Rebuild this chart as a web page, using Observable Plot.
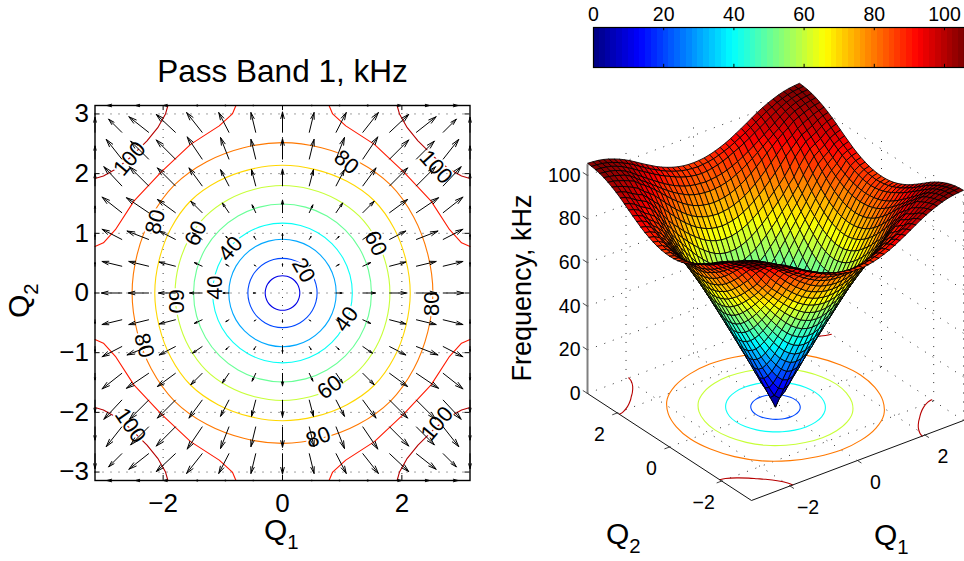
<!DOCTYPE html>
<html><head><meta charset="utf-8">
<script src="https://cdn.jsdelivr.net/npm/d3@7"></script>
<script src="https://cdn.jsdelivr.net/npm/@observablehq/plot@0.6"></script>
<style>
html,body{margin:0;padding:0;background:#fff;overflow:hidden}
body{width:964px;height:561px;position:relative;font-family:"Liberation Sans",Arial,sans-serif;color:#000}
#left,#bar,#surf{position:absolute}
#left{left:0;top:0}#bar{left:560px;top:0}#surf{left:500px;top:72px}
.lab{position:absolute;white-space:nowrap;line-height:1}
.lab sub{font-size:.68em;vertical-align:-.42em;line-height:0}
</style></head><body>
<div id="left"></div><div id="surf"></div><div id="bar"></div>
<div class="lab" style="left:264px;top:515px;font-size:30px">Q<sub>1</sub></div>
<div class="lab" style="left:4px;top:282px;font-size:30px;transform:rotate(-90deg);transform-origin:18px 18px">Q<sub>2</sub></div>
<div class="lab" style="left:874px;top:520px;font-size:30px">Q<sub>1</sub></div>
<div class="lab" style="left:606px;top:519px;font-size:30px">Q<sub>2</sub></div>
<div class="lab" style="left:522px;top:288px;font-size:27px;transform:translate(-50%,-50%) rotate(-90deg)">Frequency, kHz</div>
<script>
const PI = Math.PI;
const titleText = "Pass Band 1, kHz";
const colorMax = 105.7;
const barTicks = [0,20,40,60,80,100];
const qTicks = [-2,0,2];
const yTicks = [-3,-2,-1,0,1,2,3];
const zTicks = [0,20,40,60,80,100];

// frequency, kHz, on one octant of the zone: row i, column j<=i, Q = k*pi/20
const freqOctant = [
[0],
[5.3,7.5],
[10.7,12.0,15.3],
[16.2,17.1,19.5,22.9],
[21.6,22.2,24.1,27.0,30.3],
[27.0,27.5,29.0,31.2,34.3,37.8],
[32.2,32.6,33.9,35.9,38.5,41.6,45.1],
[37.4,37.8,38.9,40.6,42.9,45.7,48.8,52.3],
[42.6,42.9,43.9,45.4,47.4,49.9,52.8,56.0,59.3],
[47.7,48.0,48.8,50.2,52.0,54.3,56.9,59.7,62.8,65.9],
[52.8,53.0,53.8,55.0,56.6,58.7,61.0,63.5,66.2,69.1,72.0],
[57.8,58.0,58.7,59.7,61.2,63.0,65.0,67.3,69.7,72.3,75.0,78.2],
[62.6,62.8,63.4,64.3,65.5,67.1,69.0,71.0,73.3,75.8,78.2,81.0,84.4],
[67.1,67.3,67.8,68.6,69.8,71.2,73.0,75.0,77.2,79.7,82.2,85.0,88.0,90.4],
[71.4,71.6,72.0,72.8,73.8,75.1,76.8,78.7,80.9,83.2,85.8,88.3,90.8,92.8,94.6],
[75.4,75.6,76.0,76.7,77.7,79.0,80.6,82.4,84.4,86.6,88.9,91.1,93.2,95.1,96.8,98.9],
[79.4,79.6,79.9,80.5,81.3,82.5,83.8,85.3,87.0,88.8,90.7,92.6,94.5,96.2,98.2,100.0,101.4],
[82.4,82.6,82.9,83.4,84.1,85.1,86.2,87.5,89.0,90.6,92.3,94.0,95.8,97.5,99.4,101.0,102.2,103.2],
[85.0,85.2,85.6,86.2,87.0,88.0,89.2,90.3,91.6,93.0,94.5,96.0,97.5,99.1,100.5,101.9,103.0,103.9,104.5],
[86.8,87.0,87.3,87.8,88.5,89.4,90.4,91.6,92.9,94.2,95.7,97.2,98.8,100.2,101.4,102.6,103.5,104.3,104.9,105.2],
[87.5,87.6,87.9,88.4,89.1,90.0,91.0,92.2,93.6,95.0,96.5,98.0,99.5,100.8,102.0,103.0,103.9,104.6,105.1,105.4,105.6]
];

// contour radii, at 0, 15, 30 and 45 degrees
const contourAngles = [0,15,30,45];
const closedContours = [
 {level:10, r:[.29,.29,.29,.29]},
 {level:20, r:[.58,.58,.58,.58]},
 {level:30, r:[.90,.90,.90,.90]},
 {level:40, r:[1.17,1.17,1.17,1.17]},
 {level:50, r:[1.49,1.49,1.49,1.49]},
 {level:60, r:[1.80,1.80,1.81,1.82]},
 {level:70, r:[2.14,2.14,2.16,2.18]},
 {level:80, r:[2.52,2.52,2.54,2.56]}
];
// open contours near the zone edge, one octant
const contour90 = [[3.1416,.78],[3.0,.84],[2.80,1.06],[2.49,1.54],[2.03,2.03]];
const contour100 = [[3.1416,1.92],[3.0,1.96],[2.77,2.09],[2.55,2.27],[2.41,2.41]];

// contour labels: text, Q1, Q2, rotation
const contourLabels = [
 ["100",-2.56,2.25,-50],["80",-2.13,1.19,-75],["60",-1.45,1.0,-65],["40",-.87,.74,-50],
 ["40",-1.14,.09,-90],["60",-1.78,-.14,90],["80",-2.32,-.88,75],["100",-2.55,-2.22,55],
 ["80",.60,-2.42,-20],["60",.79,-1.58,-36],["40",1.07,-.44,-55],["20",.35,.38,60],
 ["60",1.56,.83,65],["80",1.07,2.19,40],["100",2.57,2.11,48],["80",2.50,-.18,-90],["100",2.59,-2.19,-50]
];

// arrow component along the index direction; rows |m|, columns |k|, grid Q = k*2pi/14
const arrowComp = [
 [0,.04,.10,.21,.28,.34,.34,0],
 [0,.02,.05,.13,.27,.33,.33,0],
 [0,.03,.05,.16,.27,.36,.33,0],
 [0,.06,.11,.19,.30,.37,.33,0],
 [0,.07,.14,.22,.30,.32,.30,0],
 [0,.08,.14,.25,.32,.30,.26,0],
 [0,.08,.17,.26,.32,.33,.22,0],
 [0,.06,.08,.11,.20,.22,.25,0]
];

// view of the 3-D axes: screen units per Q1, per Q2 and per kHz
const view = {q1x:33.74, q2x:-26.1, q1y:12.73, q2y:17.03, zy:2.18};
const project = (q1,q2,z) => ({x:view.q1x*q1+view.q2x*q2, y:view.q1y*q1+view.q2y*q2+view.zy*z});

const clip01 = v => Math.max(0,Math.min(1,v));
const jet = d3.range(64).map(i=>{
  const t=(i+.5)/64;
  return d3.rgb(255*clip01(Math.min(4*t-1.5,-4*t+4.5)),255*clip01(Math.min(4*t-.5,-4*t+3.5)),255*clip01(Math.min(4*t+.5,-4*t+2.5))).formatHex();
});
const colorScale = {type:"quantize",domain:[0,colorMax],range:jet};
const fmt=t=>String(t).replace("-","\u2212");

/* ---------- contour geometry ---------- */
const closedRows=[];
closedContours.forEach(c=>{
  const n=contourAngles.length;
  const oct=contourAngles.map((a,i)=>[a,c.r[i]]);
  const quad=[...oct,...oct.slice(0,n-1).reverse().map(([a,r])=>[90-a,r])];
  d3.range(4).forEach(q=>quad.slice(0,quad.length-1).forEach(([a,r])=>{
    const t=(a+90*q)*PI/180;
    closedRows.push({id:"c"+c.level,level:c.level,q1:r*Math.cos(t),q2:r*Math.sin(t)});
  }));
});
const openRows=[];
[[90,contour90],[100,contour100]].forEach(([level,pts])=>{
  const arc=[...pts,...pts.slice(0,-1).reverse().map(([a,b])=>[b,a])];
  [[1,1],[-1,1],[-1,-1],[1,-1]].forEach(([s1,s2],q)=>arc.forEach(([a,b])=>
    openRows.push({id:"o"+level+"_"+q,level,q1:s1*a,q2:s2*b})));
});

/* ---------- arrows ---------- */
const arrows=[];
d3.range(-7,8).forEach(k=>d3.range(-7,8).forEach(m=>{
  const u=Math.sign(k)*arrowComp[Math.abs(m)][Math.abs(k)], v=Math.sign(m)*arrowComp[Math.abs(k)][Math.abs(m)];
  if(u||v){const q1=k*2*PI/14,q2=m*2*PI/14;arrows.push({q1,q2,e1:q1+u,e2:q2+v});}
}));

/* ---------- left panel ---------- */
const innerTick=.085;
const leftTicks=[...qTicks.flatMap(x=>[{x,a:-PI,b:-PI+innerTick},{x,a:PI,b:PI-innerTick}])];
const leftYTicks=yTicks.flatMap(y=>[{y,a:-PI,b:-PI+innerTick},{y,a:PI,b:PI-innerTick}]);
const left=Plot.plot({
  width:500,height:561,marginLeft:94.5,marginRight:30.5,marginTop:105,marginBottom:81,
  style:{fontFamily:"Liberation Sans, Arial, sans-serif",background:"transparent",color:"#000"},
  x:{domain:[-PI,PI],label:null},y:{domain:[-PI,PI],label:null},color:colorScale,
  marks:[
    Plot.gridX({ticks:qTicks,stroke:"#000",strokeOpacity:.75,strokeDasharray:"1,7",strokeWidth:1}),
    Plot.gridY({ticks:yTicks,stroke:"#000",strokeOpacity:.75,strokeDasharray:"1,7",strokeWidth:1}),
    Plot.line(closedRows,{x:"q1",y:"q2",z:"id",stroke:"level",strokeWidth:1.1,curve:"catmull-rom-closed"}),
    Plot.line(openRows,{x:"q1",y:"q2",z:"id",stroke:"level",strokeWidth:1.1}),
    Plot.text(contourLabels,{x:d=>d[1],y:d=>d[2],text:d=>d[0],rotate:d=>d[3],fontSize:22,fill:"#000",stroke:"#fff",strokeWidth:4,paintOrder:"stroke"}),
    Plot.arrow(arrows,{x1:"q1",y1:"q2",x2:"e1",y2:"e2",stroke:"#000",strokeWidth:1,headLength:12,headAngle:30}),
    Plot.ruleX(leftTicks,{x:"x",y1:"a",y2:"b",stroke:"#000"}),
    Plot.ruleY(leftYTicks,{y:"y",x1:"a",x2:"b",stroke:"#000"}),
    Plot.axisX({ticks:qTicks,tickFormat:fmt,tickSize:0,tickPadding:13,fontSize:26,label:null}),
    Plot.axisY({ticks:yTicks,tickFormat:fmt,tickSize:0,tickPadding:6,fontSize:26,label:null}),
    Plot.frame({stroke:"#000",strokeWidth:1.4}),
    Plot.text([titleText],{frameAnchor:"top",dy:-46,fontSize:31.5,fill:"#000"})
  ]
});
document.getElementById("left").append(left);

/* ---------- colour bar ---------- */
const barCells=jet.map((c,i)=>({x1:i*colorMax/64,x2:(i+1)*colorMax/64,v:(i+.5)*colorMax/64}));
const bar=Plot.plot({
  width:404,height:72,marginLeft:33,marginRight:0,marginTop:27,marginBottom:5,
  style:{fontFamily:"Liberation Sans, Arial, sans-serif",background:"transparent",color:"#000"},
  x:{domain:[0,colorMax],label:null},y:{domain:[0,1],axis:null},color:colorScale,
  marks:[
    Plot.rect(barCells,{x1:"x1",x2:"x2",y1:0,y2:1,fill:"v",shapeRendering:"crispEdges"}),
    Plot.ruleX(barTicks,{y1:0,y2:.08,stroke:"#000"}),
    Plot.ruleX(barTicks,{y1:1,y2:.92,stroke:"#000"}),
    Plot.axisX({anchor:"top",ticks:barTicks,tickSize:0,tickPadding:7,fontSize:19.5,label:null}),
    Plot.frame({stroke:"#000",strokeWidth:1.2})
  ]
});
document.getElementById("bar").append(bar);

/* ---------- 3-D panel ---------- */
const freqAt=(a,b)=>{const i=Math.abs(a),j=Math.abs(b);return i>=j?freqOctant[i][j]:freqOctant[j][i];};
const N=20, step=PI/N;
const facets=[];
let fid=0;
for(let a=N-1;a>=-N;a--) for(let b=N-1;b>=-N;b--){
  const corners=[[a,b],[a+1,b],[a+1,b+1],[a,b+1],[a,b]];
  const f=(freqAt(a,b)+freqAt(a+1,b)+freqAt(a+1,b+1)+freqAt(a,b+1))/4;
  corners.forEach(([p,q])=>{const s=project(p*step,q*step,freqAt(p,q));facets.push({id:fid,f,x:s.x,y:s.y});});
  fid++;
}
const floorLines=[...closedRows,...openRows].filter(d=>d.level%20===0).map(d=>({...d,...project(d.q1,d.q2,0)}));
const seg=(a,b)=>{const p=project(...a),q=project(...b);return {x1:p.x,y1:p.y,x2:q.x,y2:q.y};};
const gridSegs=[
  ...qTicks.flatMap(t=>[seg([t,-PI,0],[t,PI,0]),seg([-PI,t,0],[PI,t,0]),seg([PI,t,0],[PI,t,colorMax]),seg([t,PI,0],[t,PI,colorMax])]),
  ...zTicks.flatMap(z=>[seg([PI,-PI,z],[PI,PI,z]),seg([-PI,PI,z],[PI,PI,z])]),
  seg([PI,PI,0],[PI,PI,colorMax]),seg([PI,-PI,0],[PI,-PI,colorMax])
];
const floorEdges=[seg([-PI,PI,0],[-PI,-PI,0]),seg([-PI,-PI,0],[PI,-PI,0])];
const floorTicks=[...qTicks.map(t=>seg([t,-PI,0],[t,-PI-.15,0])),...qTicks.map(t=>seg([-PI,t,0],[-PI-.15,t,0]))];
const zAxis=[seg([-PI,PI,0],[-PI,PI,colorMax-.5])];
const zTickSegs=zTicks.map(z=>seg([-PI,PI,z],[-PI,PI+.18,z]));
const zLabels=zTicks.map(z=>({z,...project(-PI,PI,z)}));
const q1Labels=qTicks.map(t=>({t,...project(t,-PI,0)}));
const q2Labels=qTicks.map(t=>({t,...project(-PI,t,0)}));

const surf=Plot.plot({
  width:464,height:489,margin:0,
  style:{fontFamily:"Liberation Sans, Arial, sans-serif",background:"transparent",color:"#000"},
  x:{domain:[-275,189],range:[0,464],axis:null},
  y:{domain:[-154.5,334.5],range:[489,0],axis:null},
  color:colorScale,
  marks:[
    Plot.link(gridSegs,{x1:"x1",y1:"y1",x2:"x2",y2:"y2",stroke:"#000",strokeOpacity:.8,strokeDasharray:"1,8",strokeWidth:1}),
    Plot.line(floorLines.filter(d=>d.id[0]==="c"),{x:"x",y:"y",z:"id",stroke:"level",strokeWidth:1.1,curve:"catmull-rom-closed"}),
    Plot.line(floorLines.filter(d=>d.id[0]==="o"),{x:"x",y:"y",z:"id",stroke:"level",strokeWidth:1.1,curve:"catmull-rom"}),
    Plot.link(zAxis,{x1:"x1",y1:"y1",x2:"x2",y2:"y2",stroke:"#808080",strokeWidth:2}),
    Plot.link(zTickSegs,{x1:"x1",y1:"y1",x2:"x2",y2:"y2",stroke:"#222",strokeWidth:.8}),
    Plot.link(floorEdges,{x1:"x1",y1:"y1",x2:"x2",y2:"y2",stroke:"#111",strokeWidth:1}),
    Plot.link(floorTicks,{x1:"x1",y1:"y1",x2:"x2",y2:"y2",stroke:"#111",strokeWidth:.8}),
    Plot.line(facets,{x:"x",y:"y",z:"id",fill:"f",stroke:"#000",strokeWidth:.85,strokeLinejoin:"round"}),
    Plot.text(zLabels,{x:"x",y:"y",text:d=>String(d.z),textAnchor:"end",dx:-7,fontSize:19.5,fill:"#000"}),
    Plot.text(q1Labels,{x:"x",y:"y",text:d=>fmt(d.t),dx:18,dy:22,fontSize:19.5,fill:"#000"}),
    Plot.text(q2Labels,{x:"x",y:"y",text:d=>fmt(d.t),dx:-18,dy:22,fontSize:19.5,fill:"#000"})
  ]
});
document.getElementById("surf").append(surf);
</script>
</body></html>
